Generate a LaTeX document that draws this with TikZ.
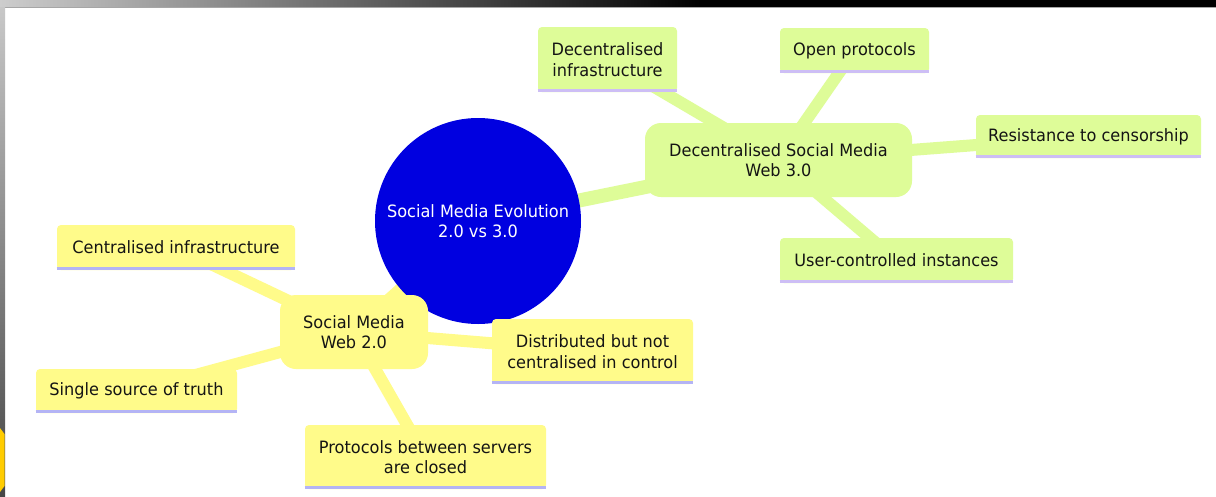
\documentclass[tikz,border=0pt]{standalone}
\usepackage{fontspec}
\setmainfont{DejaVu Sans}[FakeStretch=0.95]
\usetikzlibrary{backgrounds}
\definecolor{rootblue}{RGB}{0,0,224}
\definecolor{gfill}{RGB}{222,252,152}
\definecolor{yfill}{RGB}{255,251,138}
\definecolor{gline}{RGB}{205,190,245}
\definecolor{yline}{RGB}{180,180,245}
\definecolor{txt}{RGB}{20,20,20}
\definecolor{gold}{RGB}{255,204,0}
\tikzset{
  base/.style={inner sep=0pt, align=center, text=txt, font=\fontsize{17}{20.5}\selectfont},
  gmain/.style={base, fill=gfill, rounded corners=16pt},
  ymain/.style={base, fill=yfill, rounded corners=16pt},
  gleaf/.style={base, fill=gfill, rounded corners=4pt},
  yleaf/.style={base, fill=yfill, rounded corners=4pt},
  gul/.style={draw=gline, line width=3pt},
  yul/.style={draw=yline, line width=3pt},
  glink/.style={draw=gfill, line width=12pt},
  ylink/.style={draw=yfill, line width=12pt},
  gmlink/.style={draw=gfill, line width=14pt},
  ymlink/.style={draw=yfill, line width=14pt},
}
\begin{document}
\begin{tikzpicture}[x=1pt,y=-1pt]
\useasboundingbox (0,0) rectangle (1216,496);
% nodes
\node[circle, fill=rootblue, minimum size=206pt, inner sep=0pt, align=center, text=white,
      font=\fontsize{17}{20.5}\selectfont] (root) at (478,221) {Social Media Evolution\\2.0 vs 3.0};
\node[gmain, minimum width=267pt, minimum height=74pt] (w3) at (778.5,160) {Decentralised Social Media\\Web 3.0};
\node[gleaf, minimum width=139pt, minimum height=65pt] (dinf) at (607.5,59.5) {Decentralised\\infrastructure};
\node[gleaf, minimum width=149pt, minimum height=45pt] (open) at (854.5,50.5) {Open protocols};
\node[gleaf, minimum width=225pt, minimum height=43pt] (resist) at (1088.5,136.5) {Resistance to censorship};
\node[gleaf, minimum width=233pt, minimum height=45pt] (user) at (896.5,260.5) {User-controlled instances};
\node[ymain, minimum width=148pt, minimum height=74pt] (w2) at (354,332) {Social Media\\Web 2.0};
\node[yleaf, minimum width=201pt, minimum height=65pt] (dist) at (592.5,351.5) {Distributed but not\\centralised in control};
\node[yleaf, minimum width=241pt, minimum height=64pt] (proto) at (425.5,457) {Protocols between servers\\are closed};
\node[yleaf, minimum width=238pt, minimum height=45pt] (cinf) at (176,247.5) {Centralised infrastructure};
\node[yleaf, minimum width=201pt, minimum height=44pt] (single) at (136.5,391) {Single source of truth};
% underlines
\foreach \n in {dinf,open,resist,user}
  \draw[gul] ([yshift=1.5pt]\n.south west) -- ([yshift=1.5pt]\n.south east);
\foreach \n in {dist,proto,cinf,single}
  \draw[yul] ([yshift=1.5pt]\n.south west) -- ([yshift=1.5pt]\n.south east);
\begin{scope}[on background layer]
  % frame
  \fill[white] (0,0) rectangle (1216,496);
  \shade[left color={rgb,255:red,205;green,205;blue,205}, right color=black] (0,0) rectangle (700,7);
  \fill[black] (700,0) rectangle (1216,7);
  \draw[gray!70, line width=1pt] (5,7.5) -- (1216,7.5);
  \shade[top color={rgb,255:red,200;green,200;blue,200}, bottom color={rgb,255:red,70;green,70;blue,70}] (0,7) rectangle (5,496);
  \fill[gold] (0,428) -- (4.5,434) -- (4.5,486) -- (0,492) -- cycle;
  % links
  \draw[gmlink] (root.center) -- (w3.center);
  \draw[ymlink] (root.center) -- (w2.center);
  \draw[glink] (w3.center) -- (dinf.center);
  \draw[glink] (w3.center) -- (open.center);
  \draw[glink] (w3.center) -- (resist.center);
  \draw[glink] (w3.center) -- (user.center);
  \draw[ylink] (w2.center) -- (dist.center);
  \draw[ylink] (w2.center) -- (proto.center);
  \draw[ylink] (w2.center) -- (cinf.center);
  \draw[ylink] (w2.center) -- (single.center);
\end{scope}
\end{tikzpicture}
\end{document}
